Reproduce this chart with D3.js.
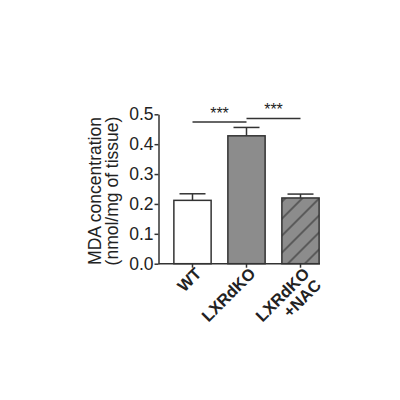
<!DOCTYPE html>
<html><head><meta charset="utf-8">
<script src="https://cdn.jsdelivr.net/npm/d3@7"></script>
<style>body{margin:0;background:#fff}svg{display:block}</style>
</head><body>
<svg id="c" width="400" height="400"></svg>
<script>
const categories = ["WT", "LXRdKO", "LXRdKO\n+NAC"];
const means = [0.212, 0.428, 0.220];
const errors = [0.022, 0.028, 0.013];
const yTicks = [0.0, 0.1, 0.2, 0.3, 0.4, 0.5];
const comparisons = [[0, 1, "***"], [1, 2, "***"]];
const compHeights = [0.474, 0.486];

const svg = d3.select("#c");
const FONT = "'Liberation Sans', Arial, sans-serif";
const x = d3.scaleBand().domain(categories).range([165.5, 327.5]).paddingInner(0.31).paddingOuter(0.155);
const y = d3.scaleLinear().domain([0, 0.5]).range([263.7, 114.3]);

// hatch pattern
const defs = svg.append("defs");
const pat = defs.append("pattern").attr("id", "hatch").attr("patternUnits", "userSpaceOnUse")
  .attr("width", 12).attr("height", 12).attr("patternTransform", "rotate(-45)");
pat.append("rect").attr("width", 12).attr("height", 12).attr("fill", "#8c8c8c");
pat.append("line").attr("x1", 0).attr("y1", 6).attr("x2", 12).attr("y2", 6)
  .attr("stroke", "#3a3a3a").attr("stroke-width", 1.2);

const fills = ["#ffffff", "#8c8c8c", "url(#hatch)"];

// error bars
const eb = svg.append("g");
categories.forEach((c, i) => {
  const cx = x(c) + x.bandwidth() / 2;
  eb.append("line").attr("x1", cx).attr("x2", cx).attr("y1", y(means[i])).attr("y2", y(means[i] + errors[i]))
    .attr("stroke", "#333").attr("stroke-width", 1.5);
  eb.append("line").attr("x1", cx - 13).attr("x2", cx + 13).attr("y1", y(means[i] + errors[i])).attr("y2", y(means[i] + errors[i]))
    .attr("stroke", "#333").attr("stroke-width", 1.5);
});

// bars
svg.append("g").selectAll("rect").data(categories).join("rect")
  .attr("x", d => x(d)).attr("width", x.bandwidth())
  .attr("y", (d, i) => y(means[i])).attr("height", (d, i) => y(0) - y(means[i]))
  .attr("fill", (d, i) => fills[i]).attr("stroke", "#333").attr("stroke-width", 1.5);

// y axis
const ya = svg.append("g").attr("transform", "translate(158.5,0)")
  .call(d3.axisLeft(y).tickValues(yTicks).tickFormat(d3.format(".1f")).tickSize(4).tickSizeOuter(0));
ya.select(".domain").attr("stroke", "#333").attr("stroke-width", 1.5);
ya.selectAll(".tick line").attr("stroke", "#333").attr("stroke-width", 1.5);
ya.selectAll(".tick text").attr("font-family", FONT).attr("font-size", 17.5).attr("fill", "#222").attr("x", -5);

// x axis
const xa = svg.append("g").attr("transform", `translate(0,${y(0)})`);
xa.append("line").attr("x1", 158.5).attr("x2", 320).attr("stroke", "#333").attr("stroke-width", 1.5);
categories.forEach(c => {
  const cx = x(c) + x.bandwidth() / 2;
  xa.append("line").attr("x1", cx).attr("x2", cx).attr("y1", 0).attr("y2", 4).attr("stroke", "#333").attr("stroke-width", 1.5);
  const t = xa.append("text").attr("transform", `translate(${cx + 10},11) rotate(-45)`)
    .attr("text-anchor", "end").attr("font-family", FONT).attr("font-weight", "bold").attr("font-size", 16.5).attr("fill", "#222");
  c.split("\n").forEach((line, k) => {
    t.append("tspan").attr("x", 0).attr("dy", k === 0 ? 0 : "1.0em").text(line);
  });
});

// y label
const yl = svg.append("text").attr("transform", "translate(101,191) rotate(-90)")
  .attr("text-anchor", "middle").attr("font-family", FONT).attr("font-size", 17.5).attr("fill", "#222");
yl.append("tspan").attr("x", 0).attr("dy", 0).text("MDA concentration");
yl.append("tspan").attr("x", 0).attr("dy", "0.98em").text("(nmol/mg of tissue)");

// significance
comparisons.forEach(([a, b, s], i) => {
  const x1 = x(categories[a]) + x.bandwidth() / 2, x2 = x(categories[b]) + x.bandwidth() / 2;
  const yy = y(compHeights[i]);
  svg.append("line").attr("x1", x1).attr("x2", x2).attr("y1", yy).attr("y2", yy).attr("stroke", "#333").attr("stroke-width", 1.5);
  svg.append("text").attr("x", (x1 + x2) / 2).attr("y", yy - 3).attr("text-anchor", "middle")
    .attr("font-family", FONT).attr("font-size", 16).attr("fill", "#222").text(s);
});
</script>
</body></html>
